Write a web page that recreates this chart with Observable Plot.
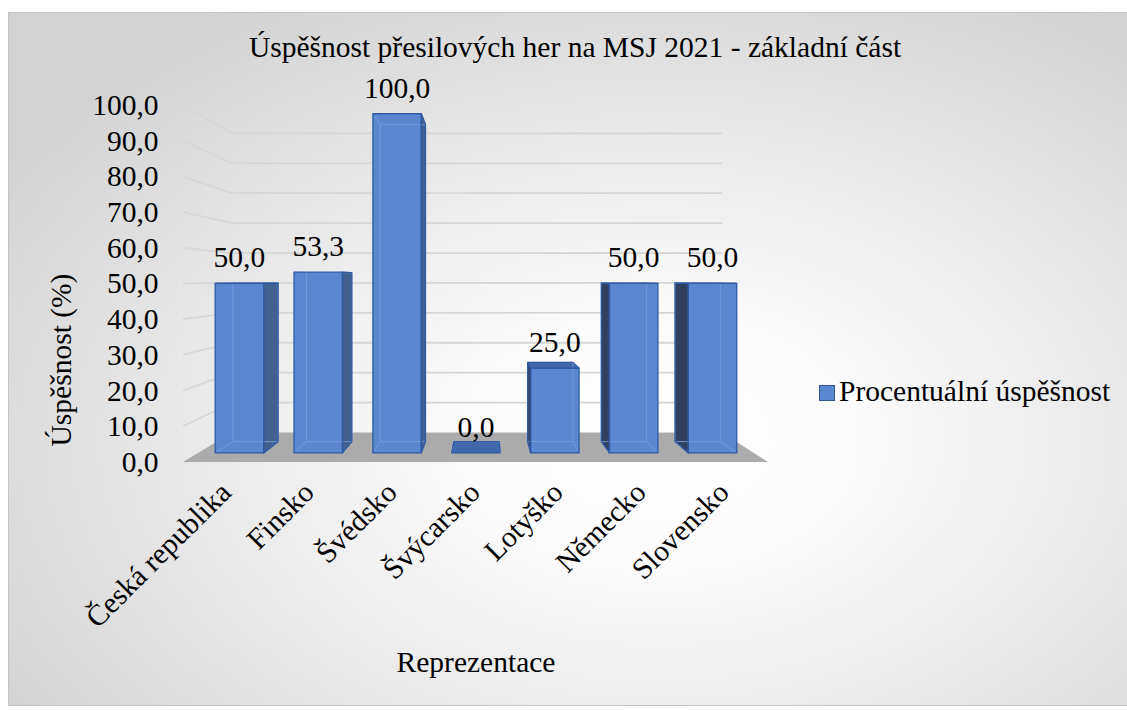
<!DOCTYPE html>
<html>
<head>
<meta charset="utf-8">
<script src="https://cdn.jsdelivr.net/npm/d3@7"></script>
<script src="https://cdn.jsdelivr.net/npm/@observablehq/plot@0.6"></script>
<style>
  body { margin: 0; background: #ffffff; }
  #wrap { position: relative; width: 1127px; height: 711px; overflow: hidden; color: #000;
          font-family: "Liberation Serif", "Times New Roman", serif; }
  #frame { position: absolute; left: 8px; top: 12px; width: 1140px; height: 694px;
           border: 1.5px solid #C4C4C4; box-sizing: border-box;
           background: radial-gradient(ellipse 70% 75% at 57% 62%, #ffffff 0%, #fbfbfb 25%, #e8e8e8 60%, #d2d2d2 100%); }
  #chart { position: absolute; left: 0; top: 0; }
  .txt { position: absolute; font-size: 29.5px; line-height: 29.5px; white-space: nowrap; }
  #title { left: 0; width: 1150px; top: 33px; text-align: center; }
  #ytitle { left: 62px; top: 360px; transform: translate(-50%, -50%) rotate(-90deg); }
  #xtitle { left: 476px; top: 648px; transform: translateX(-50%); }
  #legend { left: 819px; top: 377px; display: flex; align-items: center; }
  #legend .sw { width: 14px; height: 14px; background: #5B87CF; border: 1.5px solid #2F5597; margin-right: 4px; margin-top: 2px; }
</style>
</head>
<body>
<div id="wrap">
  <div id="frame"></div>
  <div id="chart"></div>
  <div class="txt" id="title"></div>
  <div class="txt" id="ytitle"></div>
  <div class="txt" id="xtitle"></div>
  <div class="txt" id="legend"><div class="sw"></div><span id="legtext"></span></div>
</div>
<script>
// ---------- data ----------
const countries = ["Česká republika", "Finsko", "Švédsko", "Švýcarsko", "Lotyško", "Německo", "Slovensko"];
const values = [50.0, 53.3, 100.0, 0.0, 25.0, 50.0, 50.0];
const yTicks = [0, 10, 20, 30, 40, 50, 60, 70, 80, 90, 100];
const seriesName = "Procentuální úspěšnost";
const titleText = "Úspěšnost přesilových her na MSJ 2021 - základní část";
const yTitle = "Úspěšnost (%)";
const xTitle = "Reprezentace";

const data = countries.map((country, i) => ({country, value: values[i]}));
const fmt = v => v.toFixed(1).replace(".", ",");
const FONT = "'Liberation Serif', 'Times New Roman', serif";
const FS = 29.5;

document.getElementById("title").textContent = titleText;
document.getElementById("ytitle").textContent = yTitle;
document.getElementById("xtitle").textContent = xTitle;
document.getElementById("legtext").textContent = seriesName;

// ---------- perspective camera (styling) ----------
const VP = [485, 280];
const K_WALL = 0.8376;
const K_FRONT = 0.95;
const K_BACK = 0.888;
const proj = (X, Y, k) => [VP[0] + k * (X - VP[0]), VP[1] + k * (Y - VP[1])];
const pts = arr => arr.map(p => p[0].toFixed(2) + "," + p[1].toFixed(2)).join(" ");

function wallsRender(index, scales, values, dim) {
  const g = d3.create("svg:g");
  const X0 = dim.marginLeft, X1 = dim.width - dim.marginRight;
  const Y0 = scales.y(0);
  for (const i of index) {
    const t = yTicks[i];
    if (t === 0) continue;
    const Y = scales.y(t);
    g.append("polyline")
      .attr("points", pts([proj(X0, Y, 1), proj(X0, Y, K_WALL), proj(X1, Y, K_WALL)]))
      .attr("fill", "none").attr("stroke", "#D6D6D6").attr("stroke-width", 1.8);
  }
  g.append("polygon")
    .attr("points", pts([proj(X0, Y0, 1), proj(X0, Y0, K_WALL), proj(X1, Y0, K_WALL), proj(X1, Y0, 1)]))
    .attr("fill", "#ABABAB");
  return g.node();
}

function barsRender(index, scales, values, dim) {
  const g = d3.create("svg:g");
  const bw = typeof scales.x.bandwidth === "function" ? scales.x.bandwidth() : scales.x.bandwidth;
  const Yb = scales.y(0);
  for (const i of index) {
    const d = data[i];
    const X1 = scales.x(d.country), X2 = X1 + bw;
    const Yt = scales.y(d.value);
    const F = {bl: proj(X1, Yb, K_FRONT), br: proj(X2, Yb, K_FRONT), tr: proj(X2, Yt, K_FRONT), tl: proj(X1, Yt, K_FRONT)};
    const B = {bl: proj(X1, Yb, K_BACK), br: proj(X2, Yb, K_BACK), tr: proj(X2, Yt, K_BACK), tl: proj(X1, Yt, K_BACK)};
    const faces = [];
    if (X2 < VP[0]) faces.push({p: [F.br, B.br, B.tr, F.tr], fill: "#43618F"});
    if (X1 > VP[0]) faces.push({p: [F.bl, B.bl, B.tl, F.tl], fill: "#323F5E"});
    if (Yt > VP[1]) faces.push({p: [F.tl, F.tr, B.tr, B.tl], fill: "#4267A8"});
    if (d.value > 0) faces.push({p: [F.bl, F.br, F.tr, F.tl], fill: "#5B87CF"});
    for (const f of faces) g.append("polygon").attr("points", pts(f.p)).attr("fill", f.fill);
    const edges = [[B.bl, B.br], [B.br, B.tr], [B.tr, B.tl], [B.tl, B.bl],
                   [F.bl, B.bl], [F.br, B.br], [F.tl, B.tl], [F.tr, B.tr]];
    for (const [a, b] of edges)
      g.append("line").attr("x1", a[0]).attr("y1", a[1]).attr("x2", b[0]).attr("y2", b[1])
        .attr("stroke", "#7A9EDC").attr("stroke-width", 1).attr("stroke-opacity", 0.85);
    for (const f of faces)
      g.append("polygon").attr("points", pts(f.p)).attr("fill", "none")
        .attr("stroke", "#2F5AA6").attr("stroke-width", 1.3).attr("stroke-linejoin", "round");
  }
  return g.node();
}

function labelsRender(index, scales, values, dim) {
  const g = d3.create("svg:g");
  const bw = typeof scales.x.bandwidth === "function" ? scales.x.bandwidth() : scales.x.bandwidth;
  for (const i of index) {
    const d = data[i];
    const Xc = scales.x(d.country) + bw / 2;
    const p = proj(Xc, scales.y(d.value), K_FRONT);
    g.append("text").attr("x", p[0]).attr("y", p[1] - 16)
      .attr("text-anchor", "middle").attr("font-size", FS).attr("fill", "#000")
      .text(fmt(d.value));
  }
  return g.node();
}

const chart = Plot.plot({
  width: 1127,
  height: 711,
  marginLeft: 183,
  marginRight: 359,
  marginTop: 105,
  marginBottom: 249,
  style: {background: "transparent", fontFamily: FONT, fontSize: FS + "px", color: "#000", overflow: "visible"},
  x: {domain: countries, paddingInner: 0.39, paddingOuter: 0.195, label: null},
  y: {domain: [0, 100], label: null},
  marks: [
    Plot.ruleY(yTicks, {y: d => d, render: wallsRender}),
    Plot.axisY({ticks: yTicks, tickFormat: fmt, tickSize: 0, tickPadding: 25, fontSize: FS, label: null}),
    Plot.axisX({tickSize: 0, tickPadding: 25, tickRotate: -45, fontSize: FS, label: null, dx: -1}),
    Plot.barY(data, {x: "country", y: "value", render: barsRender}),
    Plot.text(data, {x: "country", y: "value", text: d => fmt(d.value), render: labelsRender})
  ]
});
document.getElementById("chart").appendChild(chart);
</script>
</body>
</html>
